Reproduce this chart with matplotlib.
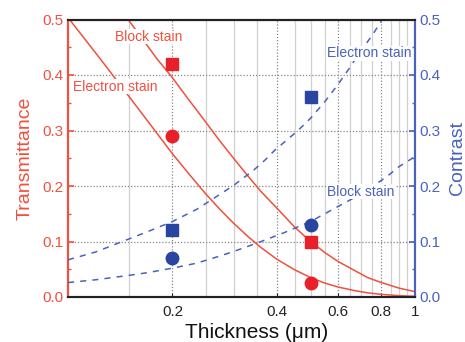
import matplotlib
matplotlib.use('Agg')
import matplotlib.pyplot as plt
from matplotlib.ticker import FixedLocator, NullFormatter

plt.rcParams['font.family'] = ['Liberation Sans', 'DejaVu Sans']

RED = '#f0503e'
RED_M = '#e8202a'
BLUE = '#4a62bd'
BLUE_M = '#2a45a0'

# Transmittance curves (left axis)
block_T_x = [0.149, 0.16, 0.18, 0.2, 0.22, 0.24, 0.274, 0.30, 0.33, 0.36, 0.40, 0.45,
             0.5, 0.55, 0.6, 0.664, 0.73, 0.8, 0.9, 1.0]
block_T_y = [0.500, 0.474, 0.43, 0.395, 0.36, 0.329, 0.281, 0.25, 0.218, 0.19, 0.16, 0.126,
             0.10, 0.08, 0.064, 0.049, 0.035, 0.026, 0.016, 0.0096]
elec_T_x = [0.101, 0.115, 0.13, 0.15, 0.175, 0.2, 0.225, 0.25, 0.274, 0.30, 0.33, 0.36,
            0.40, 0.45, 0.5, 0.55, 0.6, 0.664, 0.73, 0.8, 0.9, 1.0]
elec_T_y = [0.500, 0.455, 0.412, 0.361, 0.306, 0.258, 0.219, 0.185, 0.158, 0.133, 0.109, 0.089,
            0.068, 0.049, 0.035, 0.025, 0.018, 0.012, 0.0075, 0.0047, 0.0024, 0.0013]

# Contrast curves (right axis)
elec_C_x = [0.1, 0.12, 0.149, 0.17, 0.2, 0.235, 0.268, 0.30, 0.342, 0.37, 0.395, 0.422,
            0.46, 0.5, 0.55, 0.6, 0.65, 0.69, 0.75, 0.80]
elec_C_y = [0.067, 0.081, 0.104, 0.118, 0.136, 0.158, 0.181, 0.201, 0.228, 0.247, 0.265, 0.28,
            0.30, 0.322, 0.352, 0.383, 0.414, 0.439, 0.47, 0.497]
block_C_x = [0.1, 0.12, 0.15, 0.17, 0.2, 0.235, 0.268, 0.30, 0.35, 0.42, 0.5, 0.58,
             0.664, 0.75, 0.83, 0.9, 1.0]
block_C_y = [0.026, 0.031, 0.039, 0.044, 0.052, 0.061, 0.072, 0.082, 0.097, 0.116, 0.136, 0.158,
             0.178, 0.198, 0.217, 0.235, 0.253]

# Measured points
pts_x = [0.2, 0.5]
block_T_pts = [0.42, 0.10]
elec_T_pts = [0.29, 0.025]
elec_C_pts = [0.12, 0.36]
block_C_pts = [0.07, 0.13]

xticks = [0.2, 0.4, 0.6, 0.8, 1.0]
xticklabels = ['0.2', '0.4', '0.6', '0.8', '1']
xminor = [0.15, 0.25, 0.3, 0.35, 0.45, 0.5, 0.55, 0.65, 0.7, 0.75, 0.85, 0.9, 0.95]
yticks = [0.0, 0.1, 0.2, 0.3, 0.4, 0.5]
yminor = [0.05, 0.15, 0.25, 0.35, 0.45]

fig = plt.figure(figsize=(4.65, 3.42), dpi=100)
ax = fig.add_axes([68/465, 1-297/342, (415-68)/465, (297-19.5)/342])
ax2 = ax.twinx()

ax.set_xscale('log')
ax.set_xlim(0.1, 1.0)
ax.set_ylim(0, 0.5)
ax2.set_ylim(0, 0.5)

ax.xaxis.set_major_locator(FixedLocator(xticks))
ax.set_xticklabels(xticklabels)
ax.xaxis.set_minor_locator(FixedLocator(xminor))
ax.xaxis.set_minor_formatter(NullFormatter())
ax.set_yticks(yticks)
ax.set_yticklabels([f'{v:.1f}' for v in yticks])
ax.yaxis.set_minor_locator(FixedLocator(yminor))
ax2.set_yticks(yticks)
ax2.set_yticklabels([f'{v:.1f}' for v in yticks])
ax2.yaxis.set_minor_locator(FixedLocator(yminor))

# grid
ax.grid(which='minor', axis='x', color='#d0d0d0', lw=0.9, ls='-')
ax.grid(which='major', axis='x', color='#888888', lw=0.9, ls=(0, (1, 1.5)))
ax.grid(which='major', axis='y', color='#888888', lw=0.9, ls=(0, (1, 1.5)))
ax.set_axisbelow(True)

# curves
ax.plot(block_T_x, block_T_y, color=RED, lw=1.1, zorder=3)
ax.plot(elec_T_x, elec_T_y, color=RED, lw=1.1, zorder=3)
ax2.plot(elec_C_x, elec_C_y, color=BLUE, lw=1.1, ls=(0, (4, 4)), zorder=3)
ax2.plot(block_C_x, block_C_y, color=BLUE, lw=1.1, ls=(0, (4, 4)), zorder=3)

# markers
ax.plot(pts_x, block_T_pts, 's', color=RED_M, ms=8, zorder=4)
ax.plot(pts_x, elec_T_pts, 'o', color=RED_M, ms=9, zorder=4)
ax2.plot(pts_x, elec_C_pts, 's', color=BLUE_M, ms=8, zorder=4)
ax2.plot(pts_x, block_C_pts, 'o', color=BLUE_M, ms=9, zorder=4)

bb = dict(facecolor='white', edgecolor='none', pad=0.5)
ax.text(0.137, 0.469, 'Block stain', color=RED, fontsize=10, va='center', ha='left', bbox=bb, zorder=5)
ax.text(0.1034, 0.379, 'Electron stain', color=RED, fontsize=10, va='center', ha='left', bbox=bb, zorder=5)
ax2.text(0.556, 0.439, 'Electron stain', color=BLUE, fontsize=10, va='center', ha='left', bbox=bb, zorder=5)
ax2.text(0.556, 0.19, 'Block stain', color=BLUE, fontsize=10, va='center', ha='left', bbox=bb, zorder=5)

# spines
for a in (ax, ax2):
    a.spines['top'].set_color('#222222')
    a.spines['bottom'].set_color('#222222')
    a.spines['left'].set_color(RED)
    a.spines['right'].set_color(BLUE)
    for s in a.spines.values():
        s.set_linewidth(1.5)

ax.tick_params(axis='x', which='both', direction='in', length=3, colors='#222222', labelsize=11, pad=6)
ax.tick_params(axis='x', which='minor', length=0)
ax.tick_params(axis='y', which='major', direction='in', length=4, color=RED, labelcolor=RED, labelsize=11, width=1.2)
ax.tick_params(axis='y', which='minor', direction='in', length=2.5, color=RED, width=1.0)
ax2.tick_params(axis='y', which='major', direction='in', length=4, color=BLUE, labelcolor=BLUE, labelsize=11, width=1.2)
ax2.tick_params(axis='y', which='minor', direction='in', length=2.5, color=BLUE, width=1.0)

ax.set_xlabel('Thickness (\u03bcm)', fontsize=15, labelpad=2, color='#111111')
ax.xaxis.set_label_coords(0.545, -0.095, transform=ax.transAxes)
ax.xaxis.label.set_va('top')
ax.set_ylabel('Transmittance', fontsize=14, color=RED, labelpad=6)
ax2.set_ylabel('Contrast', fontsize=14, color=BLUE, labelpad=6)

fig.savefig('out.png', dpi=100)
